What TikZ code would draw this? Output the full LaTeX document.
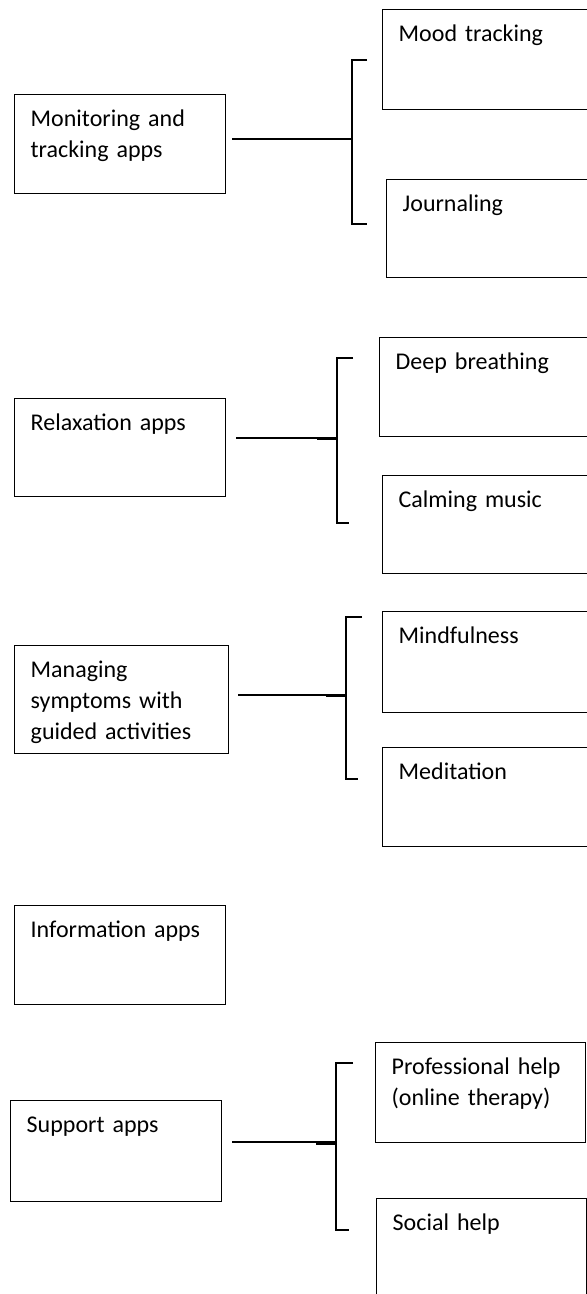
\documentclass[tikz,border=0pt]{standalone}
\usepackage{fontspec}
\setmainfont{Carlito}
\begin{document}
\begin{tikzpicture}[
		x=0.5pt, y=-0.5pt,
		box/.style 2 args={draw, line width=0.7pt, anchor=north west, align=left,
				font=\fontsize{12pt}{15.5pt}\selectfont, inner xsep=8pt, inner ysep=0pt,
				text width=#1*0.5pt-16pt, text height=15.7pt, text depth=#2*0.5pt-15.7pt},
		link/.style={line width=0.55pt},
		joint/.style={line width=1.4pt}
	]
	\clip (0,0) rectangle (587,1294);
	\node[box={211}{99}] (mon) at (14,94) {Monitoring and\\tracking apps};
	\node[box={210}{100}] (mood) at (382,9) {Mood tracking};
	\node[box={210}{98}] (journ) at (386,179) {Journaling};
	\coordinate (b1) at (352,139);
	\draw[link] ([xshift=3pt]mon.east |- b1) -- (b1);
	\draw[link] ([shift={(-15,51)}]mood.north west) -| (b1) |- ([shift={(-19,45)}]journ.north west);

	\node[box={211}{98}] (rel) at (14,398) {Relaxation apps};
	\node[box={210}{99}] (deep) at (379,337) {Deep breathing};
	\node[box={210}{98}] (calm) at (382,475) {Calming music};
	\coordinate (b2) at (337,438);
	\draw[link] ([xshift=5pt]rel.east |- b2) -- (b2);
	\draw[joint] ([shift={(-20,1)}]b2) -- ([shift={(0,1)}]b2);
	\draw[link] ([shift={(-26,21)}]deep.north west) -| (b2) |- ([shift={(-33,48)}]calm.north west);

	\node[box={214}{108}] (man) at (14,645) {Managing\\symptoms with\\guided activities};
	\node[box={210}{101}] (mind) at (382,611) {Mindfulness};
	\node[box={210}{99}] (medi) at (382,747) {Meditation};
	\coordinate (b3) at (346,695);
	\draw[link] ([xshift=4.5pt]man.east |- b3) -- (b3);
	\draw[joint] ([shift={(-20,1)}]b3) -- ([shift={(0,1)}]b3);
	\draw[link] ([shift={(-20,6)}]mind.north west) -| (b3) |- ([shift={(-24,32)}]medi.north west);

	\node[box={211}{99}] (info) at (14,905) {Information apps};

	\node[box={211}{101}] (sup) at (10,1100) {Support apps};
	\node[box={210}{100}] (prof) at (375,1042) {Professional help\\(online therapy)};
	\node[box={210}{110}] (soc) at (376,1198) {Social help};
	\coordinate (b5) at (336,1142);
	\draw[link] ([xshift=5pt]sup.east |- b5) -- (b5);
	\draw[joint] ([shift={(-20,1.5)}]b5) -- ([shift={(0,1.5)}]b5);
	\draw[link] ([shift={(-22,21)}]prof.north west) -| (b5) |- ([shift={(-27,32)}]soc.north west);
\end{tikzpicture}
\end{document}
